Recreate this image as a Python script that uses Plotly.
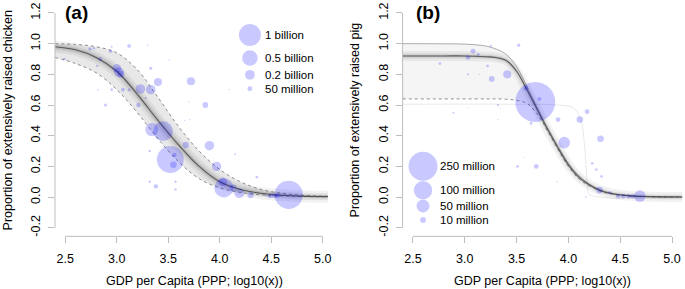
import plotly.graph_objects as go

# ---------------- data: panel (a) chicken ----------------
chk_gdp = [2.74, 2.78, 2.84, 2.94, 2.95, 3.30, 3.12, 2.81, 3.00, 3.02, 3.04, 2.49, 3.33, 3.40,
           3.72, 3.23, 3.33, 3.06, 3.12, 2.95, 2.82, 3.28, 3.21, 2.89, 3.86, 3.34, 3.45, 3.90,
           3.67, 4.09, 3.51, 3.71, 3.66, 3.52, 3.97, 3.56, 3.55, 3.32, 3.32, 3.38, 3.57, 3.57,
           4.04, 4.03, 4.13, 4.19, 4.30, 4.36, 4.15, 4.50, 4.53, 4.57, 4.67, 3.67, 3.70, 4.48,
           4.55, 4.45]
chk_prop = [0.965, 0.97, 0.90, 0.95, 0.98, 0.99, 0.985, 0.855, 0.84, 0.815, 0.80, 0.90, 0.84, 0.75,
            0.755, 0.705, 0.70, 0.70, 0.70, 0.70, 0.70, 0.645, 0.60, 0.60, 0.60, 0.44, 0.43, 0.335,
            0.34, 0.70, 0.895, 0.505, 0.50, 0.245, 0.20, 0.275, 0.21, 0.30, 0.10, 0.07, 0.10, 0.05,
            0.06, 0.10, 0.06, 0.025, 0.013, 0.13, 0.28, 0.01, 0.01, 0.01, 0.015, 0.155, 0.62, 0.005,
            0.005, 0.01]
chk_pop_m = [25, 12, 30, 25, 8, 5, 30, 12, 150, 190, 100, 15, 20, 140,
             140, 190, 190, 30, 20, 15, 5, 12, 40, 20, 70, 350, 800, 190,
             80, 3, 4, 4, 4, 1500, 180, 40, 90, 12, 12, 40, 12, 12,
             750, 150, 100, 200, 80, 15, 6, 45, 45, 30, 1650, 3, 3, 20,
             25, 10]

chk_curve_x = [2.4, 2.6, 2.8, 3.0, 3.2, 3.4, 3.6, 3.8, 4.0, 4.2, 4.4, 4.6, 4.8, 5.05]
chk_upper = [1.0, 0.995, 0.98, 0.94, 0.83, 0.65, 0.46, 0.30, 0.18, 0.10, 0.05, 0.025, 0.012, 0.005]
chk_median = [0.98, 0.96, 0.91, 0.82, 0.67, 0.50, 0.34, 0.20, 0.10, 0.05, 0.025, 0.012, 0.006, 0.003]
chk_lower = [0.91, 0.87, 0.81, 0.70, 0.55, 0.38, 0.23, 0.12, 0.06, 0.03, 0.015, 0.008, 0.004, 0.002]

chk_legend_pop_m = [1000, 500, 200, 50]
chk_legend_labels = ["1 billion", "0.5 billion", "0.2 billion", "50 million"]

# ---------------- data: panel (b) pig ----------------
pig_gdp = [3.08, 3.13, 3.03, 3.25, 3.52, 2.76, 3.22, 3.03, 3.14, 3.41, 3.26, 2.40, 3.59, 3.68,
           3.72, 2.89, 3.03, 3.32, 3.90, 4.11, 4.18, 3.64, 3.96, 4.31, 3.51, 3.69, 4.23, 4.27,
           4.32, 4.30, 4.17, 3.89, 4.48, 4.53, 4.58, 4.62, 4.69, 3.32, 3.34, 3.57, 4.40]
pig_prop = [0.95, 0.93, 0.91, 0.985, 0.99, 0.87, 0.855, 0.80, 0.80, 0.80, 0.77, 0.65, 0.71, 0.62,
            0.64, 0.55, 0.58, 0.60, 0.505, 0.505, 0.557, 0.48, 0.355, 0.38, 0.20, 0.20, 0.22, 0.18,
            0.135, 0.045, 0.0, 0.10, 0.005, 0.005, 0.005, 0.005, 0.006, 0.505, 0.58, 0.26, 0.03]
pig_pop_m = [7.4, 2.5, 6.5, 1.5, 3.3, 2.2, 2.2, 1.5, 0.5, 20, 9.6, 1.2, 6.5, 475,
             4.8, 1.2, 0.5, 1.5, 6.5, 13, 6.5, 2.2, 40, 13, 2.2, 6.5, 2, 2,
             2, 13, 0.8, 0.5, 6, 6, 6, 6, 40, 0.5, 0.4, 0.3, 3]

pig_curve_x = [2.4, 2.8, 3.0, 3.2, 3.3, 3.4, 3.5, 3.6, 3.7, 3.8, 3.9, 4.0, 4.1, 4.2, 4.3, 4.4, 4.6, 4.8, 5.1]
pig_upper = [1.0, 0.999, 0.997, 0.985, 0.965, 0.93, 0.85, 0.72, 0.58, 0.45, 0.33, 0.22, 0.14, 0.085, 0.05, 0.028, 0.009, 0.003, 0.001]
pig_median = [0.92, 0.92, 0.92, 0.915, 0.91, 0.89, 0.82, 0.70, 0.57, 0.44, 0.32, 0.21, 0.13, 0.08, 0.045, 0.025, 0.008, 0.003, 0.001]
pig_lower = [0.64, 0.64, 0.64, 0.64, 0.64, 0.638, 0.63, 0.61, 0.54, 0.43, 0.31, 0.20, 0.12, 0.075, 0.04, 0.022, 0.007, 0.002, 0.001]
pig_odd_x = [2.4, 3.5, 3.9, 4.05, 4.12, 4.16, 4.18, 4.2, 4.3, 5.1]
pig_odd_y = [0.605, 0.605, 0.60, 0.58, 0.50, 0.30, 0.10, 0.02, 0.0, 0.0]

pig_legend_pop_m = [250, 100, 50, 10]
pig_legend_labels = ["250 million", "100 million", "50 million", "10 million"]

x_ticks = [2.5, 3.0, 3.5, 4.0, 4.5, 5.0]
y_ticks = [-0.2, 0.0, 0.2, 0.4, 0.6, 0.8, 1.0, 1.2]
x_title = "GDP per Capita (PPP; log10(x))"
y_title_a = "Proportion of extensively raised chicken"
y_title_b = "Proportion of extensively raised pig"

# ---------------- layout constants ----------------
W, H = 685, 289
FONT = "Liberation Sans, Arial, sans-serif"
PT = "rgba(0,0,255,0.3)"
AX = "#bdbdbd"
xa_dom = [55 / W, 333 / W]
xb_dom = [402.6 / W, 682.4 / W]
y_dom = [1 - 236 / H, 1 - 2.4 / H]
x_range = [2.4, 5.1]
y_range = [-0.256, 1.256]


def chk_size(p):
    return 22 * (p / 1000) ** 0.5


def pig_size(p):
    return 29 * (p / 250) ** 0.5


fig = go.Figure()
DOT = dict(color="rgba(80,80,80,0.7)", width=0.9, dash="dot", shape="spline")
SOLID = dict(color="rgba(90,90,90,0.55)", width=0.9, shape="spline")


def add_band(cx, up, med, lo, xr, yr, fill_a, glow, up_style, lo_style):
    fig.add_trace(go.Scatter(x=cx, y=up, mode="lines", line=dict(color="rgba(0,0,0,0)", width=0, shape="spline"),
                             xaxis=xr, yaxis=yr, hoverinfo="skip"))
    fig.add_trace(go.Scatter(x=cx, y=lo, mode="lines", line=dict(color="rgba(0,0,0,0)", width=0, shape="spline"),
                             fill="tonexty", fillcolor=f"rgba(0,0,0,{fill_a})", xaxis=xr, yaxis=yr, hoverinfo="skip"))
    for w, a in glow:
        fig.add_trace(go.Scatter(x=cx, y=med, mode="lines", line=dict(color=f"rgba(0,0,0,{a})", width=w, shape="spline"),
                                 xaxis=xr, yaxis=yr, hoverinfo="skip"))
    for yy, st in ((up, up_style), (lo, lo_style)):
        fig.add_trace(go.Scatter(x=cx, y=yy, mode="lines", line=st, xaxis=xr, yaxis=yr, hoverinfo="skip"))
    fig.add_trace(go.Scatter(x=cx, y=med, mode="lines", line=dict(color="rgba(70,70,70,0.85)", width=1.1, shape="spline"),
                             xaxis=xr, yaxis=yr, hoverinfo="skip"))


add_band(chk_curve_x, chk_upper, chk_median, chk_lower, "x", "y", 0.09,
         [(12, 0.05), (7, 0.07), (3.5, 0.09)], DOT, DOT)
add_band(pig_curve_x, pig_upper, pig_median, pig_lower, "x2", "y2", 0.04,
         [(10, 0.05), (5, 0.07), (2.5, 0.08)], SOLID, DOT)
fig.add_trace(go.Scatter(x=pig_odd_x, y=pig_odd_y, mode="lines",
                         line=dict(color="rgba(0,0,0,0.09)", width=1, shape="spline"),
                         xaxis="x2", yaxis="y2", hoverinfo="skip"))

# data points
fig.add_trace(go.Scatter(x=chk_gdp, y=chk_prop, mode="markers", xaxis="x", yaxis="y",
                         marker=dict(size=[chk_size(p) for p in chk_pop_m], color=PT, line=dict(width=0))))
fig.add_trace(go.Scatter(x=pig_gdp, y=pig_prop, mode="markers", xaxis="x2", yaxis="y2",
                         marker=dict(size=[pig_size(p) for p in pig_pop_m], color=PT, line=dict(width=0))))

# bubble legends (drawn in data space, like the original)
leg_a_x, leg_a_tx, leg_a_y = 4.293, 4.42, [1.056, 0.907, 0.797, 0.706]
leg_b_x, leg_b_tx, leg_b_y = 2.597, 2.74, [0.201, 0.045, -0.058, -0.149]
fig.add_trace(go.Scatter(x=[leg_a_x] * 4, y=leg_a_y, mode="markers", xaxis="x", yaxis="y",
                         marker=dict(size=[chk_size(p) for p in chk_legend_pop_m], color=PT, line=dict(width=0))))
fig.add_trace(go.Scatter(x=[leg_b_x] * 4, y=leg_b_y, mode="markers", xaxis="x2", yaxis="y2",
                         marker=dict(size=[pig_size(p) for p in pig_legend_pop_m], color=PT, line=dict(width=0))))

ann = []
for lab, yy in zip(chk_legend_labels, leg_a_y):
    ann.append(dict(x=leg_a_tx, y=yy, xref="x", yref="y", text=lab, showarrow=False,
                    xanchor="left", yanchor="middle", font=dict(size=11.5, color="black")))
for lab, yy in zip(pig_legend_labels, leg_b_y):
    ann.append(dict(x=leg_b_tx, y=yy, xref="x2", yref="y2", text=lab, showarrow=False,
                    xanchor="left", yanchor="middle", font=dict(size=11.5, color="black")))

# panel labels
ann.append(dict(x=63 / W, y=1 - 11 / H, xref="paper", yref="paper", text="<b>(a)</b>", showarrow=False,
                xanchor="left", yanchor="middle", font=dict(size=19, color="black")))
ann.append(dict(x=414 / W, y=1 - 11 / H, xref="paper", yref="paper", text="<b>(b)</b>", showarrow=False,
                xanchor="left", yanchor="middle", font=dict(size=19, color="black")))

# axis titles
for cx in (sum(xa_dom) / 2, sum(xb_dom) / 2):
    ann.append(dict(x=cx, y=1 - 281 / H, xref="paper", yref="paper", text=x_title, showarrow=False,
                    xanchor="center", yanchor="middle", font=dict(size=12.5, color="black")))
for tx, t in ((8 / W, y_title_a), (355 / W, y_title_b)):
    ann.append(dict(x=tx, y=sum(y_dom) / 2, xref="paper", yref="paper", text=t, showarrow=False, textangle=-90,
                    xanchor="center", yanchor="middle", font=dict(size=12.5, color="black")))

# R-style axis lines (span first to last tick)
shapes = []
for xr, yr, dom in (("x", "y", xa_dom), ("x2", "y2", xb_dom)):
    shapes.append(dict(type="line", xref=xr, yref="paper", x0=x_ticks[0], x1=x_ticks[-1],
                       y0=y_dom[0], y1=y_dom[0], line=dict(color=AX, width=1)))
    shapes.append(dict(type="line", xref="paper", yref=yr, x0=dom[0], x1=dom[0],
                       y0=y_ticks[0], y1=y_ticks[-1], line=dict(color=AX, width=1)))

xcommon = dict(range=x_range, tickvals=x_ticks, ticktext=[f"{v:.1f}" for v in x_ticks],
               showgrid=False, zeroline=False, showline=False, ticks="outside", ticklen=6,
               tickcolor=AX, tickwidth=1, tickfont=dict(size=12.5, color="black"), ticklabelstandoff=5)
ycommon = dict(range=y_range, tickvals=y_ticks, ticktext=[f"{v:.1f}" for v in y_ticks], domain=y_dom,
               showgrid=False, zeroline=False, showline=False, ticks="outside", ticklen=6,
               tickcolor=AX, tickwidth=1, tickangle=-90, tickfont=dict(size=12.5, color="black"),
               ticklabelstandoff=3)

fig.update_layout(
    width=W, height=H, margin=dict(l=0, r=0, t=0, b=0),
    paper_bgcolor="white", plot_bgcolor="white", showlegend=False,
    font=dict(family=FONT, color="black"),
    xaxis=dict(domain=xa_dom, anchor="y", **xcommon),
    yaxis=dict(anchor="x", **ycommon),
    xaxis2=dict(domain=xb_dom, anchor="y2", **xcommon),
    yaxis2=dict(anchor="x2", **ycommon),
    annotations=ann, shapes=shapes, hovermode=False,
)

fig.write_html("out.html", config={"displayModeBar": False},
               post_script="document.body.style.margin='0';document.body.style.overflow='hidden';")
